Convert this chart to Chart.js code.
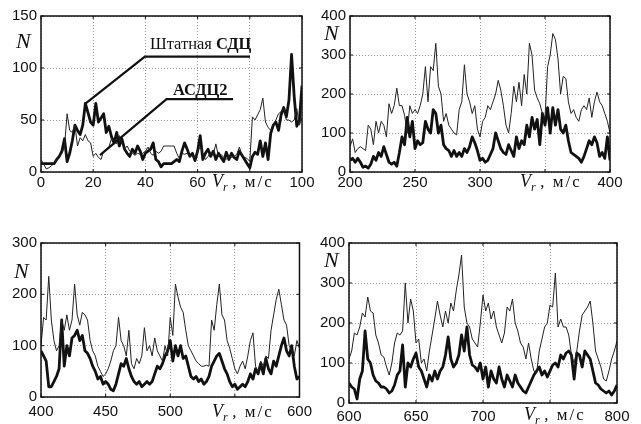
<!DOCTYPE html>
<html>
<head>
<meta charset="utf-8">
<script src="https://cdn.jsdelivr.net/npm/chart.js@4.4.0/dist/chart.umd.min.js"></script>
<style>
body { margin: 0; background: #fff; }
#wrap { position: relative; width: 641px; height: 424px; overflow: hidden; background: #fff; }
#wrap canvas { position: absolute; }
.lbl { position: absolute; font-family: "Liberation Serif", "Times New Roman", serif; line-height: 1; white-space: pre; color: #111; }
.nlab { font-size: 22px; font-style: italic; }
.vr { font-size: 18px; }
.vr .sub { font-size: 12px; position: relative; top: 4px; font-style: italic; }
.vr .unit { font-size: 17px; letter-spacing: 2px; }
.note { font-size: 16.5px; }
</style>
</head>
<body>
<div id="wrap">
<canvas id="c1" width="318" height="200" style="left:0;top:0"></canvas>
<canvas id="c2" width="323" height="200" style="left:318px;top:0"></canvas>
<canvas id="c3" width="318" height="202" style="left:0;top:222px"></canvas>
<canvas id="c4" width="323" height="202" style="left:318px;top:222px"></canvas>

<div class="lbl nlab" style="left:16px;top:30px">N</div>
<div class="lbl nlab" style="left:324px;top:22px">N</div>
<div class="lbl nlab" style="left:14px;top:260px">N</div>
<div class="lbl nlab" style="left:324px;top:249px">N</div>

<div class="lbl vr" style="left:212px;top:172px"><i>V</i><span class="sub">r</span> <span class="unit">, м/с</span></div>
<div class="lbl vr" style="left:520px;top:172px"><i>V</i><span class="sub">r</span> <span class="unit">, м/с</span></div>
<div class="lbl vr" style="left:212px;top:402px"><i>V</i><span class="sub">r</span> <span class="unit">, м/с</span></div>
<div class="lbl vr" style="left:524px;top:405px"><i>V</i><span class="sub">r</span> <span class="unit">, м/с</span></div>

<div class="lbl note" style="left:150px;top:36px">Штатная <b>СДЦ</b></div>
<div class="lbl note" style="left:173px;top:82px"><b>АСДЦ2</b></div>
</div>

<script>
// panel 1: 0..100 m/s, step 1
const thin1 = [
  12, 8, 3, 4, 6, 8, 12, 15, 18, 24,
  56, 40, 38, 45, 25, 33, 30, 36, 30, 28,
  15, 18, 14, 12, 20, 22, 24, 32, 30, 27,
  35, 28, 22, 25, 20, 18, 16, 18, 17, 18,
  20, 24, 18, 16, 20, 18, 20, 25, 25, 25,
  25, 25, 18, 13, 18, 17, 18, 15, 16, 14,
  20, 24, 18, 12, 15, 19, 17, 27, 15, 17,
  14, 12, 16, 14, 15, 17, 24, 16, 14, 13,
  10, 53, 50, 55, 60, 71, 48, 43, 40, 46,
  50, 56, 58, 61, 50, 50, 48, 50, 61, 45,
  52
]
const thick1 = [
  8, 8, 8, 8, 8, 8, 12, 15, 20, 32,
  10, 18, 30, 45, 40, 36, 45, 66, 57, 48,
  45, 66, 48, 52, 56, 38, 44, 34, 28, 38,
  25, 32, 22, 18, 15, 22, 18, 25, 20, 12,
  18, 20, 22, 28, 12, 10, 5, 8, 8, 8,
  8, 10, 12, 10, 20, 28, 22, 15, 18, 11,
  20, 35, 12, 18, 22, 15, 20, 12, 18, 14,
  10, 19, 12, 18, 14, 12, 20, 16, 12, 8,
  4, 15, 19, 17, 30, 15, 28, 12, 37, 45,
  48, 40, 55, 62, 53, 69, 113, 73, 44, 50,
  83
]

// panel 2: 200..400 m/s, step 2
const thin2 = [
  65, 85, 50, 60, 65, 60, 55, 120, 110, 70,
  130, 100, 130, 120, 90, 175, 150, 170, 215, 170,
  170, 145, 100, 170, 150, 160, 150, 170, 200, 270,
  180, 270, 260, 330, 220, 200, 130, 150, 120, 110,
  100, 95, 160, 180, 275, 200, 180, 150, 170, 110,
  90, 130, 140, 170, 160, 180, 200, 235, 210, 170,
  120, 100, 150, 220, 180, 230, 170, 250, 200, 330,
  300, 210, 190, 175, 150, 140, 270, 300, 355, 340,
  290, 200, 245, 240, 180, 150, 160, 140, 130, 160,
  170, 160, 190, 140, 180, 205, 180, 170, 150, 130,
  100
]
const thick2 = [
  30, 35, 25, 35, 25, 12, 15, 10, 20, 40,
  30, 50, 40, 65, 45, 25, 20, 25, 15, 50,
  90, 70, 140, 90, 130, 60, 80, 70, 75, 130,
  110, 100, 160, 150, 100, 120, 70, 60, 55, 40,
  55, 40, 50, 40, 60, 50, 65, 90, 75, 55,
  30, 35, 25, 30, 45, 60, 100, 80, 60, 50,
  45, 70, 55, 40, 90, 60, 80, 70, 120, 90,
  140, 110, 135, 70, 150, 120, 165, 100, 165, 120,
  160, 110, 100, 120, 80, 50, 45, 40, 35, 25,
  40, 60, 80, 70, 90, 75, 40, 50, 35, 90,
  30
]

// panel 3: 400..600 m/s, step 2
const thin3 = [
  100, 155, 150, 235, 150, 110, 90, 100, 150, 130,
  160, 130, 150, 220, 160, 140, 165, 160, 150, 110,
  90, 80, 60, 50, 40, 45, 55, 70, 90, 100,
  155, 110, 100, 80, 130, 65, 55, 75, 65, 80,
  135, 90, 100, 80, 115, 90, 80, 70, 100, 80,
  155, 120, 220, 195, 175, 165, 130, 100, 90, 80,
  70, 65, 60, 60, 62, 60, 150, 130, 180, 220,
  160, 150, 110, 95, 75, 55, 45, 60, 70, 55,
  80, 110, 125, 60, 50, 70, 60, 80, 75, 130,
  160, 190, 210, 180, 150, 140, 100, 90, 80, 110,
  95
]
const thick3 = [
  90, 80, 70, 20, 20, 30, 40, 55, 150, 60,
  100, 80, 115, 120, 130, 110, 120, 90, 85, 75,
  60, 50, 35, 40, 25, 30, 25, 15, 12, 25,
  45, 65, 60, 75, 55, 40, 30, 25, 30, 20,
  25, 30, 25, 30, 45, 60, 55, 65, 80, 90,
  110, 70, 100, 80, 100, 75, 80, 60, 40, 35,
  40, 30, 35, 25, 30, 40, 60, 70, 80, 85,
  70, 55, 45, 30, 20, 25, 15, 20, 25, 20,
  30, 45, 35, 55, 45, 65, 45, 75, 55, 45,
  70, 60, 80, 100, 115, 90, 80, 100, 60, 35,
  40
]

// panel 4: 600..800 m/s, step 2
const thin4 = [
  110, 130, 175, 170, 190, 225, 215, 265, 230, 225,
  170, 150, 120, 115, 90, 70, 100, 150, 175, 170,
  180, 300, 200, 260, 230, 150, 160, 100, 110, 80,
  130, 170, 210, 255, 220, 190, 230, 200, 250, 230,
  280, 320, 370, 240, 200, 190, 160, 150, 140, 200,
  270, 230, 250, 210, 230, 190, 170, 150, 175, 240,
  230, 260, 200, 180, 150, 140, 110, 150, 110, 80,
  75, 130, 160, 190, 200, 245, 240, 325, 190, 210,
  190, 190, 170, 120, 100, 130, 180, 220, 230, 240,
  255, 200, 130, 110, 90, 60, 55, 80, 110, 130,
  155
]
const thick4 = [
  50, 40, 35, 10, 60, 80, 180, 110, 100, 70,
  55, 50, 40, 40, 35, 25, 30, 45, 70, 80,
  145, 40, 100, 90, 110, 125, 90, 80, 60, 40,
  70, 55, 80, 60, 80, 90, 120, 165, 110, 90,
  100, 120, 170, 130, 190, 120, 95, 90, 80, 100,
  60, 90, 40, 80, 60, 50, 90, 60, 40, 70,
  55, 40, 70, 50, 40, 30, 25, 40, 55, 70,
  80, 90, 70, 80, 65, 80, 95, 100, 90, 120,
  110, 125, 130, 120, 60, 125, 120, 90, 130, 120,
  110, 80, 50, 45, 35, 30, 25, 30, 20, 30,
  45
]

const tickFont = { family: '"Liberation Sans", Arial, sans-serif', size: 15 }

const xValues = (start, step, n) => Array.from({ length: n }, (_, i) => start + i * step)

// box round the plot with short inward ticks, like the original
const framePlugin = {
  id: 'frame',
  afterDatasetsDraw(chart) {
    const { ctx, chartArea: a, scales } = chart
    ctx.save()
    ctx.strokeStyle = '#111'
    ctx.lineWidth = 1.5
    ctx.strokeRect(a.left, a.top, a.right - a.left, a.bottom - a.top)
    ctx.lineWidth = 1
    scales.x.ticks.forEach(t => {
      const px = scales.x.getPixelForValue(t.value)
      ctx.beginPath()
      ctx.moveTo(px, a.bottom); ctx.lineTo(px, a.bottom - 3)
      ctx.moveTo(px, a.top); ctx.lineTo(px, a.top + 3)
      ctx.stroke()
    })
    scales.y.ticks.forEach(t => {
      const py = scales.y.getPixelForValue(t.value)
      ctx.beginPath()
      ctx.moveTo(a.left, py); ctx.lineTo(a.left + 3, py)
      ctx.moveTo(a.right, py); ctx.lineTo(a.right - 3, py)
      ctx.stroke()
    })
    ctx.restore()
  }
}

// leader lines from the two labels in panel 1, given in data units
const leaders = [
  [[16.9, 65.4], [39.8, 110.9], [80.1, 110.9]],
  [[22.6, 16.3], [48.1, 70.0], [73.6, 70.0]]
]
const leaderPlugin = {
  id: 'leaders',
  afterDatasetsDraw(chart) {
    const { ctx, scales } = chart
    ctx.save()
    ctx.strokeStyle = '#111'
    ctx.lineWidth = 2.2
    ctx.lineJoin = 'miter'
    leaders.forEach(pts => {
      ctx.beginPath()
      pts.forEach(([x, y], i) => {
        const px = scales.x.getPixelForValue(x), py = scales.y.getPixelForValue(y)
        if (i === 0) ctx.moveTo(px, py)
        else ctx.lineTo(px, py)
      })
      ctx.stroke()
    })
    ctx.restore()
  }
}

const makePanel = (id, xs, thinY, thickY, cfg, extra = []) => {
  return new Chart(document.getElementById(id), {
    type: 'line',
    data: {
      datasets: [{
        label: 'АСДЦ2',
        data: xs.map((x, i) => ({ x, y: thinY[i] })),
        borderColor: '#222',
        borderWidth: 1,
        pointRadius: 0,
        tension: 0
      }, {
        label: 'Штатная СДЦ',
        data: xs.map((x, i) => ({ x, y: thickY[i] })),
        borderColor: '#111',
        borderWidth: 2.8,
        borderJoinStyle: 'round',
        pointRadius: 0,
        tension: 0
      }]
    },
    options: {
      responsive: false,
      animation: false,
      events: [],
      layout: { padding: { top: cfg.padTop, right: cfg.padRight, left: 0, bottom: 0 } },
      plugins: { legend: { display: false }, tooltip: { enabled: false } },
      scales: {
        x: {
          type: 'linear',
          min: cfg.xMin,
          max: cfg.xMax,
          ticks: {
            stepSize: cfg.xStep,
            autoSkip: false,
            maxRotation: 0,
            padding: cfg.xPad,
            color: '#111',
            font: tickFont,
            callback: v => v === cfg.xHide ? '' : v
          },
          grid: { color: '#9a9a9a', lineWidth: 1, drawTicks: false, borderDash: [1, 2] },
          border: { display: false, dash: [1, 2] },
          afterFit: s => { s.height = cfg.xAxisH }
        },
        y: {
          min: 0,
          max: cfg.yMax,
          ticks: { stepSize: cfg.yStep, padding: 4, color: '#111', font: tickFont },
          grid: { color: '#9a9a9a', lineWidth: 1, drawTicks: false, borderDash: [1, 2] },
          border: { display: false, dash: [1, 2] },
          afterFit: s => { s.width = cfg.yAxisW }
        }
      }
    },
    plugins: [framePlugin, ...extra]
  })
}

makePanel('c1', xValues(0, 1, thin1.length), thin1, thick1,
  { xMin: 0, xMax: 100, xStep: 20, xHide: 80, yMax: 150, yStep: 50,
    padTop: 16, padRight: 16, xAxisH: 28, yAxisW: 41, xPad: 2 }, [leaderPlugin])
makePanel('c2', xValues(200, 2, thin2.length), thin2, thick2,
  { xMin: 200, xMax: 400, xStep: 50, xHide: 350, yMax: 400, yStep: 100,
    padTop: 16, padRight: 31, xAxisH: 28, yAxisW: 32, xPad: 2 })
makePanel('c3', xValues(400, 2, thin3.length), thin3, thick3,
  { xMin: 400, xMax: 600, xStep: 50, xHide: 550, yMax: 300, yStep: 100,
    padTop: 21, padRight: 16, xAxisH: 27, yAxisW: 41, xPad: 6 })
makePanel('c4', xValues(600, 2, thin4.length), thin4, thick4,
  { xMin: 600, xMax: 800, xStep: 50, xHide: 750, yMax: 400, yStep: 100,
    padTop: 21, padRight: 24, xAxisH: 21, yAxisW: 31, xPad: 5 })
</script>
</body>
</html>
